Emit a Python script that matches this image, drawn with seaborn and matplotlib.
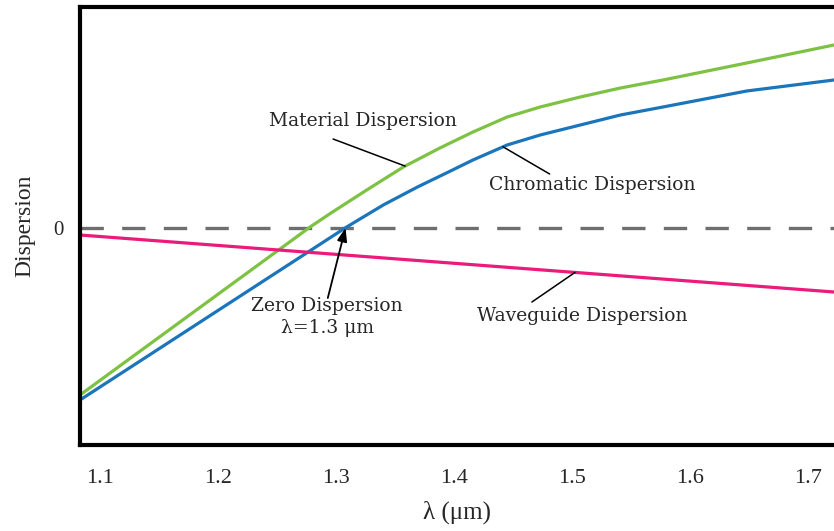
import numpy as np
import pandas as pd
import matplotlib
matplotlib.use("Agg")
import matplotlib.pyplot as plt
import seaborn as sns

# Wavelength (um) and dispersion values (arbitrary units) for each curve
material_wl = [1.083, 1.278, 1.297, 1.326, 1.357, 1.388, 1.416, 1.445, 1.473,
               1.507, 1.541, 1.577, 1.648, 1.722]
material_d = [-1.67, 0.01, 0.16, 0.38, 0.61, 0.80, 0.96, 1.11, 1.21,
              1.31, 1.40, 1.48, 1.65, 1.83]

chromatic_wl = [1.083, 1.292, 1.309, 1.340, 1.369, 1.397, 1.416, 1.445, 1.473,
                1.507, 1.541, 1.577, 1.648, 1.722]
chromatic_d = [-1.72, -0.12, 0.01, 0.23, 0.41, 0.57, 0.68, 0.83, 0.93,
               1.03, 1.13, 1.21, 1.37, 1.48]

waveguide_wl = [1.083, 1.722]
waveguide_d = [-0.07, -0.64]

x_ticks = [1.1, 1.2, 1.3, 1.4, 1.5, 1.6, 1.7]
x_tick_labels = ["1.1", "1.2", "1.3", "1.4", "1.5", "1.6", "1.7"]
zero_wl = 1.308

sns.set_style("white")
plt.rcParams["font.family"] = ["Liberation Serif", "DejaVu Serif"]

fig = plt.figure(figsize=(8.34, 5.31), dpi=100)
ax = fig.add_axes([80 / 834, 1 - 445 / 531, 1 - 80 / 834, (445 - 7) / 531])

df = pd.concat([
    pd.DataFrame({"wl": material_wl, "d": material_d, "curve": "Material"}),
    pd.DataFrame({"wl": chromatic_wl, "d": chromatic_d, "curve": "Chromatic"}),
    pd.DataFrame({"wl": waveguide_wl, "d": waveguide_d, "curve": "Waveguide"}),
])
palette = {"Material": "#7DC243", "Chromatic": "#1B75BB", "Waveguide": "#EC1A7B"}

ax.axhline(0, color="#6E6E6E", lw=2.4, dashes=(7, 5.5), zorder=1)
sns.lineplot(data=df, x="wl", y="d", hue="curve", palette=palette, lw=2.3,
             sort=False, legend=False, ax=ax, zorder=2)
for line in ax.lines:
    line.set_solid_joinstyle("round")

ax.set_xlim(1.083, 1.722)
ax.set_ylim(-2.17, 2.21)
ax.set_xticks(x_ticks)
ax.set_xticklabels(x_tick_labels, fontsize=16)
ax.set_yticks([0])
ax.set_yticklabels(["0"], fontsize=15)
ax.tick_params(axis="x", length=0, pad=17)
ax.tick_params(axis="y", length=0, pad=12)
ax.set_xlabel("λ (μm)", fontsize=18, labelpad=9)
ax.set_ylabel("Dispersion", fontsize=17, labelpad=13)

for side in ("left", "top", "bottom"):
    ax.spines[side].set_color("black")
    ax.spines[side].set_linewidth(3)
ax.spines["right"].set_visible(False)

lab_font = dict(family=["DejaVu Serif"], fontsize=13.5, ha="center", va="center")
ax.text(1.3229, 1.07, "Material Dispersion", **lab_font)
ax.text(1.517, 0.43, "Chromatic Dispersion", **lab_font)
ax.text(1.2924, -0.78, "Zero Dispersion", **lab_font)
ax.text(1.2924, -1.00, "λ=1.3 μm", **lab_font)
ax.text(1.5085, -0.88, "Waveguide Dispersion", **lab_font)

# Leader lines ending on the curves
leader = dict(arrowstyle="-", color="black", lw=1.1, shrinkA=0, shrinkB=0)
ax.annotate("", xy=(1.3585, np.interp(1.3585, material_wl, material_d)),
            xytext=(1.2975, 0.89), arrowprops=leader)
ax.annotate("", xy=(1.4415, np.interp(1.4415, chromatic_wl, chromatic_d)),
            xytext=(1.481, 0.54), arrowprops=leader)
ax.annotate("", xy=(1.5025, np.interp(1.5025, waveguide_wl, waveguide_d)),
            xytext=(1.466, -0.74), arrowprops=leader)
ax.annotate("", xy=(zero_wl, 0), xytext=(1.293, -0.70),
            arrowprops=dict(arrowstyle="-|>,head_length=0.8,head_width=0.3",
                            color="black", lw=1.3, shrinkA=0, shrinkB=0))

fig.savefig("out.png", dpi=100)
